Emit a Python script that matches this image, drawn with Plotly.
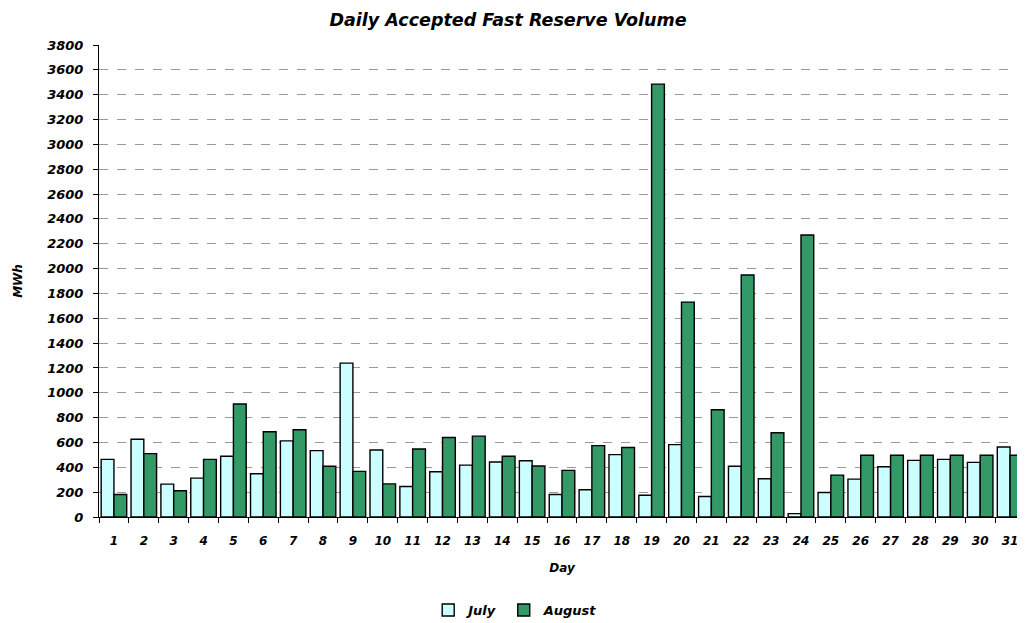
import plotly.graph_objects as go

days = [str(d) for d in range(1, 32)]
july = [464, 626, 265, 313, 489, 348, 613, 534, 1239, 540, 246, 364, 418, 443, 453,
        181, 219, 502, 175, 583, 165, 408, 308, 27, 197, 305, 405, 456, 464, 440, 564]
august = [181, 510, 211, 464, 910, 686, 702, 408, 367, 267, 548, 640, 651, 489, 410,
          375, 575, 559, 3485, 1730, 864, 1948, 678, 2270, 337, 497, 497, 497, 497, 497, 497]
y_ticks = list(range(0, 3801, 200))

font_family = "DejaVu Sans, Verdana, sans-serif"

fig = go.Figure()
fig.add_trace(go.Bar(x=days, y=july, name="<b><i>July</i></b>",
                     marker=dict(color="#CCFFFF", line=dict(color="black", width=1.4))))
fig.add_trace(go.Bar(x=days, y=august, name="<b><i>August</i></b>",
                     marker=dict(color="#339966", line=dict(color="black", width=1.4))))

# page body has an 8px default margin, so the figure is sized to fit the window
fig.update_layout(
    width=1017, height=615,
    margin=dict(l=91, r=0, t=37, b=106, autoexpand=False),
    paper_bgcolor="white", plot_bgcolor="white",
    barmode="group", bargap=0.145, bargroupgap=0,
    font=dict(family=font_family, size=12, color="black"),
    title=dict(text="<b><i>Daily Accepted Fast Reserve Volume</i></b>",
               x=0.4917, xanchor="center", y=1 - 12 / 615, yanchor="middle",
               font=dict(size=17.5, family=font_family)),
    showlegend=True,
    legend=dict(orientation="h", x=0.45, xanchor="center", y=-0.197, yanchor="middle",
                font=dict(size=13, family=font_family), itemwidth=30,
                traceorder="normal"),
)
fig.update_xaxes(
    type="category", tickvals=days, ticktext=[f"<b><i>{d}</i></b>" for d in days],
    showline=True, linecolor="black", linewidth=1,
    ticks="outside", tickson="boundaries", ticklen=5, tickcolor="black",
    showgrid=False, automargin=False, ticklabelstandoff=13,
    title=dict(text="<b><i>Day</i></b>", standoff=16, font=dict(size=12)),
    tickfont=dict(size=12),
)
fig.update_yaxes(
    range=[0, 3800], tickvals=y_ticks, ticktext=[f"<b><i>{v}</i></b>" for v in y_ticks],
    showline=True, linecolor="black", linewidth=1,
    ticks="outside", ticklen=5, tickcolor="black",
    showgrid=True, gridcolor="#999999", griddash="dash", gridwidth=1,
    zeroline=False, automargin=False, ticklabelstandoff=7,
    title=dict(text="<b><i>MWh</i></b>", standoff=22, font=dict(size=12)),
    tickfont=dict(size=13),
)

fig.write_html("out.html")
